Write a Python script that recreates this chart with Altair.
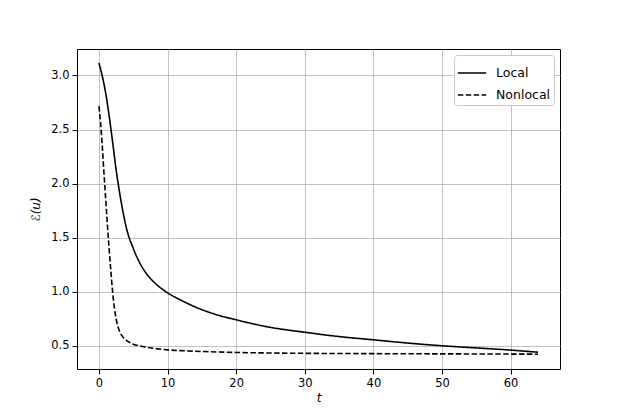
import altair as alt
import pandas as pd

local_t = [0, 0.5, 1, 1.5, 2, 2.5, 3, 3.5, 4, 5, 6, 7, 8, 10, 12, 14, 17, 20, 25, 30, 35, 40, 45, 50, 55, 60, 64]
local_v = [3.115, 2.99, 2.83, 2.62, 2.38, 2.13, 1.92, 1.74, 1.59, 1.40, 1.26, 1.16, 1.09, 0.99, 0.92, 0.86, 0.79,
           0.74, 0.67, 0.625, 0.585, 0.555, 0.525, 0.50, 0.48, 0.46, 0.44]

nonlocal_t = [0, 0.25, 0.5, 0.75, 1, 1.25, 1.5, 1.75, 2, 2.25, 2.5, 2.75, 3, 3.5, 4, 4.5, 5, 6, 7, 8, 10, 13, 16,
              20, 25, 30, 40, 50, 60, 64]
nonlocal_v = [2.716, 2.55, 2.33, 2.08, 1.84, 1.60, 1.38, 1.18, 0.99, 0.85, 0.75, 0.68, 0.635, 0.58, 0.55, 0.53,
              0.515, 0.497, 0.485, 0.476, 0.462, 0.452, 0.445, 0.438, 0.433, 0.43, 0.427, 0.425, 0.423, 0.422]

series = ["Local", "Nonlocal"]
x_ticks = [0, 10, 20, 30, 40, 50, 60]
y_ticks = [0.5, 1.0, 1.5, 2.0, 2.5, 3.0]

rows = [{"t": t, "v": v, "series": "Local", "order": i} for i, (t, v) in enumerate(zip(local_t, local_v))]
rows += [{"t": t, "v": v, "series": "Nonlocal", "order": i} for i, (t, v) in enumerate(zip(nonlocal_t, nonlocal_v))]
df = pd.DataFrame(rows)

chart = alt.Chart(df).mark_line(strokeWidth=1.6, interpolate="monotone", color="black").encode(
    x=alt.X("t:Q", scale=alt.Scale(domain=[-3.2, 67.2], nice=False, zero=False),
            axis=alt.Axis(values=x_ticks, title="t", format="d")),
    y=alt.Y("v:Q", scale=alt.Scale(domain=[0.285, 3.245], nice=False, zero=False),
            axis=alt.Axis(values=y_ticks, title="ℰ(u)", format=".1f")),
    strokeDash=alt.StrokeDash("series:N", scale=alt.Scale(domain=series, range=[[1, 0], [5.5, 2.4]]),
                              legend=alt.Legend(title=None, orient="top-right", symbolType="stroke",
                                                symbolSize=800, symbolStrokeWidth=1.6, symbolStrokeColor="black",
                                                labelFontSize=12.5, labelFont="DejaVu Sans", labelColor="black",
                                                strokeColor="#c8c8c8", fillColor="white", cornerRadius=3,
                                                padding=3, rowPadding=-6, offset=6, labelOffset=9)),
    order="order:Q",
).properties(
    width=483, height=320,
    padding={"left": 69, "top": 41, "right": 10, "bottom": 40},
    autosize=alt.AutoSizeParams(type="none"),
    background="white",
).configure_view(stroke="black", strokeWidth=1, fill="white").configure_axis(
    grid=True, gridColor="#b0b0b0", gridWidth=0.8, domain=False,
    tickColor="black", tickSize=5, tickWidth=1,
    labelFont="DejaVu Sans", labelFontSize=11.5, labelColor="black", labelPadding=3,
    titleFont="DejaVu Sans", titleFontSize=12, titleColor="black", titleFontWeight="normal",
    titleFontStyle="italic",
).configure_axisX(titlePadding=4).configure_axisY(titlePadding=8)

chart.save("out.html", embed_options={"renderer": "svg", "actions": False})
